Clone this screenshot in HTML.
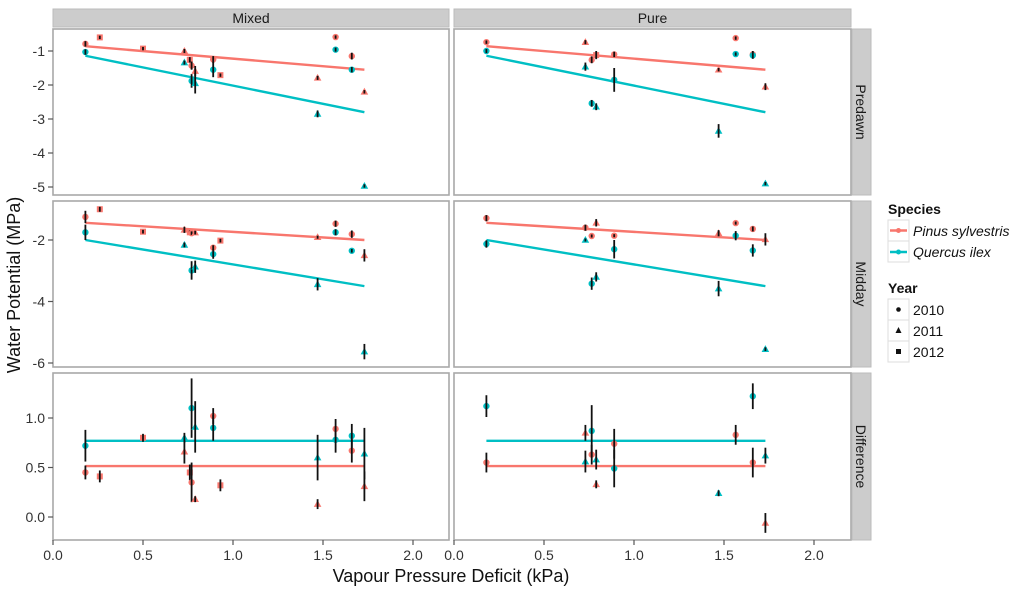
<!DOCTYPE html>
<html><head><meta charset="utf-8"><style>
html,body{margin:0;padding:0;background:#fff;}
svg{display:block;font-family:"Liberation Sans",sans-serif;}
</style></head><body>
<svg id="chart" width="1024" height="590" viewBox="0 0 1024 590" xmlns="http://www.w3.org/2000/svg"></svg>
<script>
// ---- data ----
const yearsList = [2010, 2011, 2012];
const xTicks = [0.0, 0.5, 1.0, 1.5, 2.0];
const xTickLabels = ["0.0", "0.5", "1.0", "1.5", "2.0"];
const predawnTicks = [-1, -2, -3, -4, -5];
const middayTicks = [-2, -4, -6];
const diffTicks = [0.0, 0.5, 1.0];
const lineX = [0.18, 1.73];
const predawnLineP = [-0.86, -1.55];
const predawnLineQ = [-1.14, -2.80];
const middayLineP = [-1.44, -2.0];
const middayLineQ = [-2.0, -3.5];
const diffLineP = [0.515, 0.515];
const diffLineQ = [0.77, 0.77];

// Mixed predawn
const mixPreP_x = [0.18,0.26,0.50,0.73,0.76,0.77,0.79,0.89,0.93,1.47,1.57,1.66,1.73];
const mixPreP_y = [-0.79,-0.60,-0.93,-1.0,-1.26,-1.43,-1.59,-1.25,-1.71,-1.79,-0.59,-1.15,-2.2];
const mixPreP_yr = [2010,2012,2012,2011,2012,2010,2011,2010,2012,2011,2010,2010,2011];
const mixPreP_e = [0.08,0.05,0.05,0.06,0.08,0.12,0.15,0.1,0.05,0.06,0.05,0.1,0.05];
const mixPreQ_x = [0.18,0.73,0.77,0.79,0.89,1.47,1.57,1.66,1.73];
const mixPreQ_y = [-1.03,-1.34,-1.88,-1.95,-1.55,-2.85,-0.96,-1.55,-4.97];
const mixPreQ_yr = [2010,2011,2010,2011,2010,2011,2010,2010,2011];
const mixPreQ_e = [0.08,0.06,0.2,0.3,0.22,0.1,0.06,0.08,0.05];
// Mixed midday
const mixMidP_x = [0.18,0.26,0.50,0.73,0.76,0.77,0.79,0.89,0.93,1.47,1.57,1.66,1.73];
const mixMidP_y = [-1.25,-1.0,-1.73,-1.67,-1.75,-1.78,-1.76,-2.25,-2.02,-1.91,-1.47,-1.81,-2.5];
const mixMidP_yr = [2010,2012,2012,2011,2012,2010,2011,2010,2012,2011,2010,2010,2011];
const mixMidP_e = [0.2,0.08,0.06,0.1,0.06,0.06,0.06,0.08,0.06,0.05,0.1,0.12,0.2];
const mixMidQ_x = [0.18,0.73,0.77,0.79,0.89,1.47,1.57,1.66,1.73];
const mixMidQ_y = [-1.75,-2.16,-2.99,-2.87,-2.46,-3.44,-1.75,-2.35,-5.63];
const mixMidQ_yr = [2010,2011,2010,2011,2010,2011,2010,2010,2011];
const mixMidQ_e = [0.25,0.08,0.3,0.2,0.15,0.2,0.1,0.06,0.25];
// Mixed difference
const mixDifP_x = [0.18,0.26,0.50,0.73,0.76,0.77,0.79,0.89,0.93,1.47,1.57,1.66,1.73];
const mixDifP_y = [0.45,0.41,0.80,0.66,0.45,0.35,0.18,1.02,0.32,0.13,0.89,0.67,0.31];
const mixDifP_yr = [2010,2012,2012,2011,2012,2010,2011,2010,2012,2011,2010,2010,2011];
const mixDifP_e = [0.07,0.06,0.04,0.12,0.08,0.2,0.03,0.08,0.06,0.05,0.1,0.12,0.15];
const mixDifQ_x = [0.18,0.73,0.77,0.79,0.89,1.47,1.57,1.66,1.73];
const mixDifQ_y = [0.72,0.80,1.10,0.91,0.90,0.60,0.78,0.82,0.64];
const mixDifQ_yr = [2010,2011,2010,2011,2010,2011,2010,2010,2011];
const mixDifQ_e = [0.16,0.05,0.3,0.26,0.13,0.23,0.13,0.12,0.26];
// Pure predawn
const purPreP_x = [0.18,0.73,0.765,0.79,0.89,1.47,1.565,1.66,1.73];
const purPreP_y = [-0.74,-0.74,-1.26,-1.12,-1.1,-1.55,-0.62,-1.1,-2.05];
const purPreP_yr = [2010,2011,2010,2012,2010,2011,2010,2010,2011];
const purPreP_e = [0.05,0.06,0.1,0.12,0.08,0.05,0.05,0.1,0.1];
const purPreQ_x = [0.18,0.73,0.765,0.79,0.89,1.47,1.565,1.66,1.73];
const purPreQ_y = [-1.0,-1.46,-2.54,-2.64,-1.85,-3.35,-1.09,-1.13,-4.9];
const purPreQ_yr = [2010,2011,2010,2011,2010,2011,2010,2010,2011];
const purPreQ_e = [0.06,0.12,0.1,0.1,0.35,0.2,0.05,0.1,0.05];
// Pure midday
const purMidP_x = [0.18,0.73,0.765,0.79,0.89,1.47,1.565,1.66,1.73];
const purMidP_y = [-1.29,-1.6,-1.87,-1.44,-1.86,-1.78,-1.45,-1.64,-1.98];
const purMidP_yr = [2010,2010,2010,2011,2010,2011,2010,2010,2011];
const purMidP_e = [0.1,0.1,0.05,0.12,0.05,0.1,0.05,0.08,0.2];
const purMidQ_x = [0.18,0.73,0.765,0.79,0.89,1.47,1.565,1.66,1.73];
const purMidQ_y = [-2.13,-2.0,-3.42,-3.2,-2.3,-3.58,-1.86,-2.34,-5.55];
const purMidQ_yr = [2010,2011,2010,2011,2010,2011,2010,2010,2011];
const purMidQ_e = [0.12,0.05,0.2,0.15,0.3,0.25,0.15,0.2,0.06];
// Pure difference
const purDifP_x = [0.18,0.73,0.765,0.79,0.89,1.565,1.66,1.73];
const purDifP_y = [0.55,0.85,0.63,0.33,0.74,0.83,0.55,-0.06];
const purDifP_yr = [2010,2011,2010,2011,2010,2010,2010,2011];
const purDifP_e = [0.1,0.08,0.1,0.04,0.15,0.1,0.15,0.1];
const purDifQ_x = [0.18,0.73,0.765,0.79,0.89,1.47,1.66,1.73];
const purDifQ_y = [1.12,0.56,0.87,0.58,0.49,0.24,1.22,0.62];
const purDifQ_yr = [2010,2011,2010,2011,2010,2011,2010,2011];
const purDifQ_e = [0.11,0.11,0.26,0.1,0.19,0.03,0.13,0.08];

// ---- layout ----
const NS = "http://www.w3.org/2000/svg";
const svg = document.getElementById("chart");
const colP = "#F8766D", colQ = "#00BFC4";
function el(tag, attrs, parent){const e=document.createElementNS(NS,tag);for(const k in attrs)e.setAttribute(k,attrs[k]);(parent||svg).appendChild(e);return e;}
function txt(s, attrs, parent){const e=el("text",attrs,parent);e.textContent=s;return e;}

const cols = [{name:"Mixed", x0:53, x1:449, key:"mix"},{name:"Pure", x0:454, x1:851, key:"pur"}];
const rows = [
 {name:"Predawn", y0:29, y1:195, v0:-1, p0:51, ppu:34, ticks:predawnTicks, lP:predawnLineP, lQ:predawnLineQ, key:"Pre", fmt:v=>String(v)},
 {name:"Midday", y0:201, y1:367, v0:-2, p0:240, ppu:30.75, ticks:middayTicks, lP:middayLineP, lQ:middayLineQ, key:"Mid", fmt:v=>String(v)},
 {name:"Difference", y0:373, y1:540, v0:0, p0:517, ppu:99, ticks:diffTicks, lP:diffLineP, lQ:diffLineQ, key:"Dif", fmt:v=>v.toFixed(1)}
];
const series = {
 mixPreP:[mixPreP_x,mixPreP_y,mixPreP_yr,mixPreP_e], mixPreQ:[mixPreQ_x,mixPreQ_y,mixPreQ_yr,mixPreQ_e],
 mixMidP:[mixMidP_x,mixMidP_y,mixMidP_yr,mixMidP_e], mixMidQ:[mixMidQ_x,mixMidQ_y,mixMidQ_yr,mixMidQ_e],
 mixDifP:[mixDifP_x,mixDifP_y,mixDifP_yr,mixDifP_e], mixDifQ:[mixDifQ_x,mixDifQ_y,mixDifQ_yr,mixDifQ_e],
 purPreP:[purPreP_x,purPreP_y,purPreP_yr,purPreP_e], purPreQ:[purPreQ_x,purPreQ_y,purPreQ_yr,purPreQ_e],
 purMidP:[purMidP_x,purMidP_y,purMidP_yr,purMidP_e], purMidQ:[purMidQ_x,purMidQ_y,purMidQ_yr,purMidQ_e],
 purDifP:[purDifP_x,purDifP_y,purDifP_yr,purDifP_e], purDifQ:[purDifQ_x,purDifQ_y,purDifQ_yr,purDifQ_e]
};

function marker(g, yr, cx, cy, color){
  let m;
  if(yr===2010){m=el("circle",{cx:cx,cy:cy,r:3.2,fill:color},g);}
  else if(yr===2011){m=el("polygon",{points:`${cx},${cy-4} ${cx-3.8},${cy+2.8} ${cx+3.8},${cy+2.8}`,fill:color},g);}
  else {m=el("rect",{x:cx-3,y:cy-3,width:6,height:6,fill:color},g);}
  
  
}

cols.forEach(c=>{
  const sx = v => c.x0 + v*180;
  // column strip
  const s = el("rect",{x:c.x0,y:9,width:c.x1-c.x0,height:18,fill:"#cccccc",stroke:"#bbbbbb","stroke-width":1});
  
  
  txt(c.name,{x:(c.x0+c.x1)/2,y:23,"text-anchor":"middle","font-size":14,fill:"#1a1a1a"});
  rows.forEach(r=>{
    const sy = v => r.p0 - (v - r.v0)*r.ppu;
    const g = el("g",{});
    
    
    el("rect",{x:c.x0,y:r.y0,width:c.x1-c.x0,height:r.y1-r.y0,fill:"#fff",stroke:"#a8a8a8","stroke-width":1.6},g);
    if(c.key==="mix"){
      r.ticks.forEach(t=>{
        el("line",{x1:48,x2:53,y1:sy(t),y2:sy(t),stroke:"#555","stroke-width":1.2});
        const tl = txt(r.fmt(t),{x:45,y:sy(t)+5,"text-anchor":"end","font-size":14,fill:"#333"});
        
        
      });
    }
    // fit lines
    [[r.lP,colP,"P"],[r.lQ,colQ,"Q"]].forEach(([lv,col,sp])=>{
      const ln = el("line",{x1:sx(lineX[0]),x2:sx(lineX[1]),y1:sy(lv[0]),y2:sy(lv[1]),stroke:col,"stroke-width":2.4},g);
      
      
    });
    ["P","Q"].forEach(sp=>{
      const [xs,ys,yrs,es] = series[c.key + r.key + sp];
      const col = sp==="P"?colP:colQ;
      xs.forEach((x,i)=>{
        const cx=sx(x), cy=sy(ys[i]);
        marker(g, yrs[i], cx, cy, col);
        const eb = el("line",{x1:cx,x2:cx,y1:sy(ys[i]+es[i]),y2:sy(ys[i]-es[i]),stroke:"#111","stroke-width":1.8},g);
        
        
      });
    });
    // row strip on right
    if(c.key==="pur"){
      const rs = el("rect",{x:852,y:r.y0,width:19,height:r.y1-r.y0,fill:"#cccccc",stroke:"#bbbbbb","stroke-width":1});
      
      
      const cy=(r.y0+r.y1)/2;
      txt(r.name,{x:856,y:cy,"text-anchor":"middle","font-size":14,fill:"#1a1a1a",transform:`rotate(90 856 ${cy})`});
    }
  });
  // x axis
  xTicks.forEach((t,i)=>{
    el("line",{x1:sx(t),x2:sx(t),y1:540,y2:545,stroke:"#555","stroke-width":1.2});
    const tl = txt(xTickLabels[i],{x:sx(t),y:560,"text-anchor":"middle","font-size":14,fill:"#333"});
    
    
  });
});
</script>
<svg width="0" height="0"></svg>
<div style="position:absolute;left:0;top:0;width:1024px;height:590px;pointer-events:none">
<svg width="1024" height="590" style="position:absolute;left:0;top:0" font-family="Liberation Sans, sans-serif">
  <text x="451" y="582" text-anchor="middle" font-size="18" fill="#111">Vapour Pressure Deficit (kPa)</text>
  <text x="20" y="285" text-anchor="middle" font-size="18" fill="#111" transform="rotate(-90 20 285)">Water Potential (MPa)</text>
  <g>
    <text x="888" y="214" font-size="14" font-weight="bold" fill="#111">Species</text>
    <rect x="888" y="220" width="21" height="21" fill="#fff" stroke="#ddd"/>
    <line x1="890" x2="907" y1="230.5" y2="230.5" stroke="#F8766D" stroke-width="2.4"/>
    <circle cx="898.5" cy="230.5" r="2.5" fill="#F8766D"/>
    <text x="913" y="236" font-size="14" font-style="italic" fill="#111">Pinus sylvestris</text>
    <rect x="888" y="241" width="21" height="21" fill="#fff" stroke="#ddd"/>
    <line x1="890" x2="907" y1="252" y2="252" stroke="#00BFC4" stroke-width="2.4"/>
    <circle cx="898.5" cy="252" r="2.5" fill="#00BFC4"/>
    <text x="913" y="257" font-size="14" font-style="italic" fill="#111">Quercus ilex</text>
    <text x="888" y="293" font-size="14" font-weight="bold" fill="#111">Year</text>
    <rect x="888" y="299" width="21" height="21" fill="#fff" stroke="#ddd"/>
    <circle cx="898.5" cy="309.5" r="2.3" fill="#111"/>
    <text x="913" y="315" font-size="14" fill="#111">2010</text>
    <rect x="888" y="320" width="21" height="21" fill="#fff" stroke="#ddd"/>
    <polygon points="898.5,327 895.5,333 901.5,333" fill="#111"/>
    <text x="913" y="336" font-size="14" fill="#111">2011</text>
    <rect x="888" y="341" width="21" height="21" fill="#fff" stroke="#ddd"/>
    <rect x="896" y="349" width="5" height="5" fill="#111"/>
    <text x="913" y="357" font-size="14" fill="#111">2012</text>
  </g>
</svg>
</div>
</body></html>
